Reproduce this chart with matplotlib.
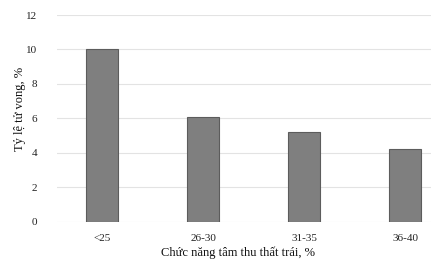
import matplotlib
matplotlib.use("Agg")
import matplotlib.pyplot as plt

categories = ["<25", "26-30", "31-35", "36-40"]
mortality = [10.0, 6.1, 5.2, 4.2]
y_ticks = [0, 2, 4, 6, 8, 10, 12]

plt.rcParams["font.family"] = ["Liberation Serif", "DejaVu Serif"]

fig = plt.figure(figsize=(4.42, 2.66), dpi=100)
ax = fig.add_axes([57 / 442, (266 - 221.7) / 266, (431 - 57) / 442, (221.7 - 15) / 266])

x = list(range(len(categories)))
ax.bar(x, mortality, width=0.32, color="#7f7f7f", edgecolor="#5c5c5c", linewidth=0.8, zorder=3)

ax.set_xlim(-0.446, 3.257)
ax.set_ylim(0, 12)
ax.set_yticks(y_ticks)
ax.set_xticks(x)
ax.set_xticklabels(categories)
ax.grid(axis="y", color="#e3e3e3", linewidth=0.8, zorder=0)
for spine in ax.spines.values():
    spine.set_visible(False)
ax.tick_params(length=0, labelsize=8, colors="#222222")
ax.tick_params(axis="x", pad=9)
ax.tick_params(axis="y", pad=14)

ax.set_xlabel("Chức năng tâm thu thất trái, %", fontsize=9, color="#111111", va="center")
ax.xaxis.set_label_coords(0.484, -0.151)
ax.set_ylabel("Tỷ lệ tử vong, %", fontsize=9, color="#111111", va="center")
ax.yaxis.set_label_coords(-0.099, 0.545)

fig.savefig("out.png", dpi=100, facecolor="white")
